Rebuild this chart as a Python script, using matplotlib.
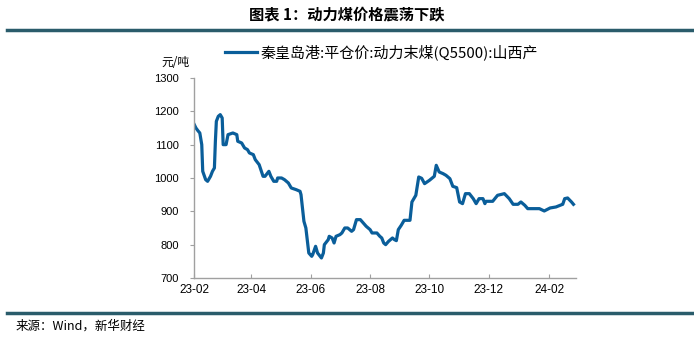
import matplotlib
matplotlib.use("Agg")
import matplotlib.pyplot as plt
import matplotlib.dates as mdates
import pandas as pd

# data (days since 2023-02-01, price in yuan/ton)
start_date = "2023-02-01"
day_offsets = [0, 2, 4, 6, 8, 9, 12, 14, 17, 19, 21, 22, 23, 25, 27, 29, 30, 33, 35, 40,
               44, 45, 49, 52, 55, 57, 61, 63, 67, 71, 73, 77, 79, 82, 85, 86, 90, 93, 97, 100,
               105, 109, 110, 113, 115, 118, 121, 122, 125, 127, 131, 133, 134, 138, 139, 142, 144, 146, 150, 152,
               155, 158, 162, 164, 167, 171, 174, 177, 181, 183, 188, 191, 193, 195, 197, 200, 204, 206, 208, 210,
               213, 216, 222, 224, 228, 231, 234, 237, 242, 247, 249, 252, 256, 259, 263, 266, 270, 273, 276, 279,
               283, 287, 290, 293, 297, 299, 300, 307, 312, 319, 324, 328, 333, 336, 340, 343, 355, 360, 366, 372,
               378, 379, 381, 384, 388, 390]
prices = [1162, 1150, 1142, 1135, 1100, 1020, 995, 990, 1005, 1020, 1030, 1110, 1170, 1185, 1190, 1180, 1100, 1100, 1130, 1135,
          1130, 1110, 1105, 1090, 1085, 1075, 1070, 1055, 1040, 1005, 1005, 1020, 1005, 990, 990, 1000, 1000, 995, 985, 970,
          965, 960, 950, 870, 850, 775, 765, 770, 795, 775, 760, 775, 800, 815, 825, 820, 805, 825, 830, 835,
          850, 850, 840, 845, 875, 875, 865, 855, 845, 835, 835, 825, 820, 805, 800, 810, 820, 815, 812, 845,
          858, 873, 873, 928, 948, 1003, 999, 983, 993, 1005, 1038, 1018, 1013, 1008, 998, 975, 971, 928, 923, 953,
          953, 938, 923, 938, 938, 923, 930, 930, 948, 953, 938, 921, 921, 928, 918, 908, 908, 901, 910, 913,
          920, 921, 938, 940, 928, 921]
series_name = "秦皇岛港:平仓价:动力末煤(Q5500):山西产"
title_text = "图表 1：动力煤价格震荡下跌"
source_text = "来源：Wind，新华财经"
unit_text = "元/吨"
y_ticks = [700, 800, 900, 1000, 1100, 1200, 1300]

dates = pd.Timestamp(start_date) + pd.to_timedelta(day_offsets, unit="D")

cjk = ["Noto Sans CJK SC", "DejaVu Sans"]
latin = ["Liberation Sans", "Noto Sans CJK SC"]

fig = plt.figure(figsize=(6.94, 3.39), dpi=100)
ax = fig.add_axes([0.2795, 0.180, 0.551, 0.590])

line_color = "#0a5e9a"
ax.plot(dates, prices, color=line_color, lw=2.3, solid_joinstyle="round", label=series_name)

ax.set_ylim(700, 1300)
ax.set_yticks(y_ticks)
ax.set_xlim(pd.Timestamp("2023-02-01"), pd.Timestamp("2024-02-29"))
ax.xaxis.set_major_locator(mdates.MonthLocator(bymonth=[2, 4, 6, 8, 10, 12]))
ax.xaxis.set_major_formatter(mdates.DateFormatter("%y-%m"))

for s in ["top", "right"]:
    ax.spines[s].set_visible(False)
for s in ["left", "bottom"]:
    ax.spines[s].set_color("#a0a0a0")
    ax.spines[s].set_linewidth(1.0)

ax.tick_params(axis="y", direction="out", length=3, color="#a0a0a0", labelsize=8, pad=8)
ax.tick_params(axis="x", direction="in", length=3, color="#a0a0a0", labelsize=8.5, pad=4)
for lab in ax.get_xticklabels() + ax.get_yticklabels():
    lab.set_family(latin)

# unit label above the y axis
fig.text(175 / 694, 1 - 62 / 339, unit_text, ha="center", va="center", fontsize=8.5, family=cjk)

# legend
leg = ax.legend(loc="upper left", bbox_to_anchor=(225 / 694, 1 - 44 / 339), bbox_transform=fig.transFigure,
                frameon=False, handlelength=2.1, handletextpad=0.3, borderaxespad=0, borderpad=0,
                prop={"family": cjk, "size": 10.8})

# header and footer
fig.text(0.5, 1 - 14 / 339, title_text, ha="center", va="center", fontsize=11, fontweight="bold", family=cjk)
fig.add_artist(plt.Line2D([7 / 694, 1.0], [1 - 30 / 339] * 2, color="#2a5c6b", lw=2.5))
fig.add_artist(plt.Line2D([7 / 694, 1.0], [1 - 313 / 339] * 2, color="#2a5c6b", lw=2.5))
fig.text(16 / 694, 1 - 326 / 339, source_text, ha="left", va="center", fontsize=9, family=cjk)

fig.savefig("out.png", dpi=100)
